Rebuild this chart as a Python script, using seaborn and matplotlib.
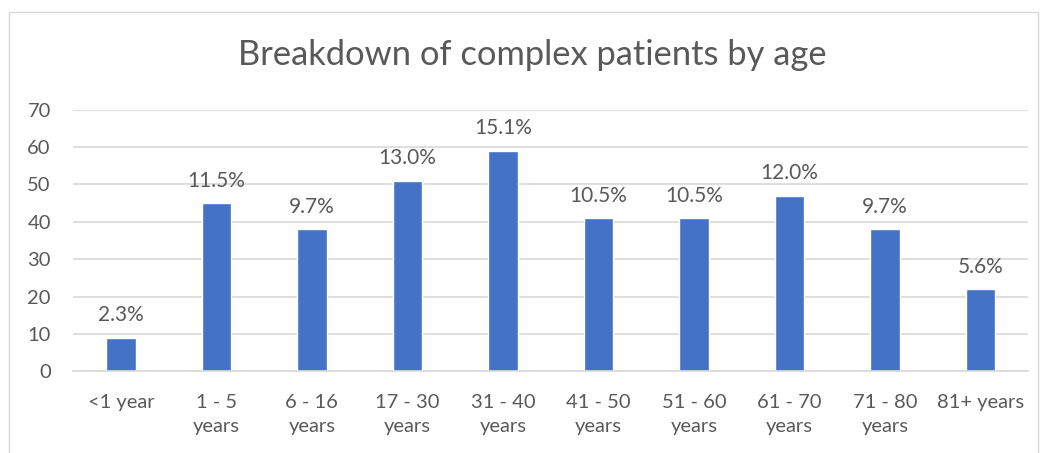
import numpy as np
import pandas as pd
import matplotlib
matplotlib.use("Agg")
import matplotlib.pyplot as plt
import seaborn as sb

# data
age_groups = ["<1 year", "1 - 5\nyears", "6 - 16\nyears", "17 - 30\nyears", "31 - 40\nyears",
              "41 - 50\nyears", "51 - 60\nyears", "61 - 70\nyears", "71 - 80\nyears", "81+ years"]
patients = [9, 45, 38, 51, 59, 41, 41, 47, 38, 22]
pct_labels = ["2.3%", "11.5%", "9.7%", "13.0%", "15.1%", "10.5%", "10.5%", "12.0%", "9.7%", "5.6%"]

sb.set_style("white")
plt.rcParams['font.family'] = ['Lato', 'DejaVu Sans']

txt = "#595959"
df = pd.DataFrame({"age": age_groups, "count": patients})

fig = plt.figure(figsize=(10.44, 4.53), dpi=100)
ax = fig.add_axes([0.07, 0.18, 0.915, 0.578])
sb.barplot(data=df, x="age", y="count", color="#4472C4", width=0.31, ax=ax, saturation=1)

ax.set_ylim(0, 70)
ax.set_yticks(np.arange(0, 71, 10))
ax.yaxis.grid(True, color="#D9D9D9", linewidth=1.2)
ax.set_axisbelow(True)
for s in ["top", "right", "left"]:
    ax.spines[s].set_visible(False)
ax.spines["bottom"].set_color("#D9D9D9")
ax.spines["bottom"].set_linewidth(1.2)
ax.tick_params(axis="both", length=0, colors=txt, labelsize=14.5)
ax.tick_params(axis="x", pad=16)
ax.tick_params(axis="y", pad=16)
for lab in ax.get_xticklabels():
    lab.set_linespacing(1.55)
ax.set_xlabel("")
ax.set_ylabel("")

for i, (v, lab) in enumerate(zip(patients, pct_labels)):
    ax.annotate(lab, (i, v), xytext=(0, 9), textcoords="offset points",
                ha="center", va="bottom", color=txt, fontsize=15)

fig.text(0.51, 0.878, "Breakdown of complex patients by age", ha="center", va="center",
         color=txt, fontsize=24.8)

# chart frame
fig.add_artist(plt.Rectangle((0.009, -0.05), 0.985, 1.023, transform=fig.transFigure,
                             fill=False, edgecolor="#D9D9D9", linewidth=1))

fig.savefig("out.png", dpi=100)
